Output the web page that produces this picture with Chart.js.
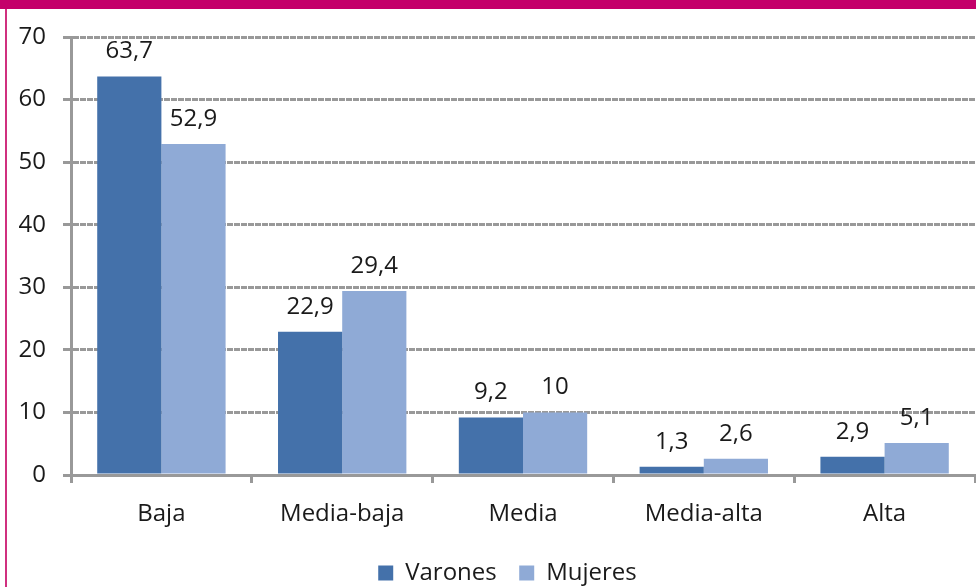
<!DOCTYPE html>
<html lang="es">
<head>
  <meta charset="UTF-8">
  <title>Varones y Mujeres</title>
  <script src="https://cdn.jsdelivr.net/npm/chart.js"></script>
  <style>
    html, body {
      margin: 0;
      padding: 0;
      background: #ffffff;
    }
    #frame {
      position: relative;
      width: 976px;
      height: 587px;
      overflow: hidden;
    }
    #topBand {
      position: absolute;
      left: 0;
      top: 0;
      width: 976px;
      height: 9px;
      background: #c4006a;
    }
    #leftLine {
      position: absolute;
      left: 5px;
      top: 9px;
      width: 2px;
      height: 578px;
      background: #d0307f;
    }
    /* a bit taller than the frame so the legend sits low like the original */
    #chartBox {
      position: absolute;
      left: 0;
      top: 0;
      width: 976px;
      height: 595px;
    }
  </style>
</head>
<body>
  <div id="frame">
    <div id="chartBox"><canvas id="barChart"></canvas></div>
    <div id="topBand"></div>
    <div id="leftLine"></div>
  </div>

  <script>
    const categories = ['Baja', 'Media-baja', 'Media', 'Media-alta', 'Alta'];
    const varones = [63.7, 22.9, 9.2, 1.3, 2.9];
    const mujeres = [52.9, 29.4, 10, 2.6, 5.1];
    const yTicks = [0, 10, 20, 30, 40, 50, 60, 70];

    const FONT = '"Open Sans", sans-serif';
    const TEXT = '#1a1a1a';
    const GRID = '#999999';

    // writes the value above every bar, comma as decimal mark
    const valueLabels = {
      id: 'valueLabels',
      afterDatasetsDraw: (chart) => {
        const ctx = chart.ctx;
        ctx.save();
        ctx.font = '24px ' + FONT;
        ctx.fillStyle = TEXT;
        ctx.textAlign = 'center';
        ctx.textBaseline = 'alphabetic';
        chart.data.datasets.forEach((ds, i) => {
          chart.getDatasetMeta(i).data.forEach((bar, j) => {
            const txt = String(ds.data[j]).replace('.', ',');
            ctx.fillText(txt, bar.x, bar.y - 18);
          });
        });
        ctx.restore();
      }
    };

    // the original legend sits a little right of the canvas centre
    const legendShift = {
      id: 'legendShift',
      afterLayout: (chart) => {
        if (chart.legend) {
          chart.legend.left += 20;
          chart.legend.right += 20;
        }
      }
    };

    const ctx = document.getElementById('barChart').getContext('2d');
    const barChart = new Chart(ctx, {
      type: 'bar',
      data: {
        labels: categories,
        datasets: [
          {
            label: 'Varones',
            data: varones,
            backgroundColor: '#4471aa',
            borderWidth: 0
          },
          {
            label: 'Mujeres',
            data: mujeres,
            backgroundColor: '#8faad6',
            borderWidth: 0
          }
        ]
      },
      options: {
        responsive: true,
        maintainAspectRatio: false,
        animation: false,
        datasets: {
          bar: {
            categoryPercentage: 0.71,
            barPercentage: 1.0
          }
        },
        layout: {
          padding: { top: 37, right: 1, left: 0, bottom: 0 }
        },
        scales: {
          x: {
            grid: {
              offset: true,
              drawOnChartArea: false,
              drawTicks: true,
              tickLength: 8,
              tickColor: GRID,
              tickWidth: 3
            },
            border: { color: GRID, width: 3 },
            ticks: {
              color: TEXT,
              font: { family: FONT, size: 24 },
              padding: 17
            },
            afterFit: (scale) => { scale.height = 76; }
          },
          y: {
            min: 0,
            max: 70,
            afterBuildTicks: (scale) => {
              scale.ticks = yTicks.map(v => ({ value: v }));
            },
            grid: {
              color: GRID,
              lineWidth: 3,
              drawTicks: true,
              tickLength: 8,
              tickColor: GRID,
              tickWidth: 3,
              tickBorderDash: []
            },
            border: { color: GRID, width: 3, dash: [6, 1] },
            ticks: {
              color: TEXT,
              font: { family: FONT, size: 24 },
              padding: 17
            },
            afterFit: (scale) => { scale.width = 71; }
          }
        },
        plugins: {
          legend: {
            position: 'bottom',
            labels: {
              color: TEXT,
              font: { family: FONT, size: 24 },
              boxWidth: 15,
              boxHeight: 15,
              padding: 10,
              generateLabels: (chart) => {
                const items = Chart.defaults.plugins.legend.labels.generateLabels(chart);
                items[0].text = items[0].text + '  ';
                return items;
              }
            }
          },
          tooltip: { enabled: false }
        }
      },
      plugins: [valueLabels, legendShift]
    });
  </script>
</body>
</html>
